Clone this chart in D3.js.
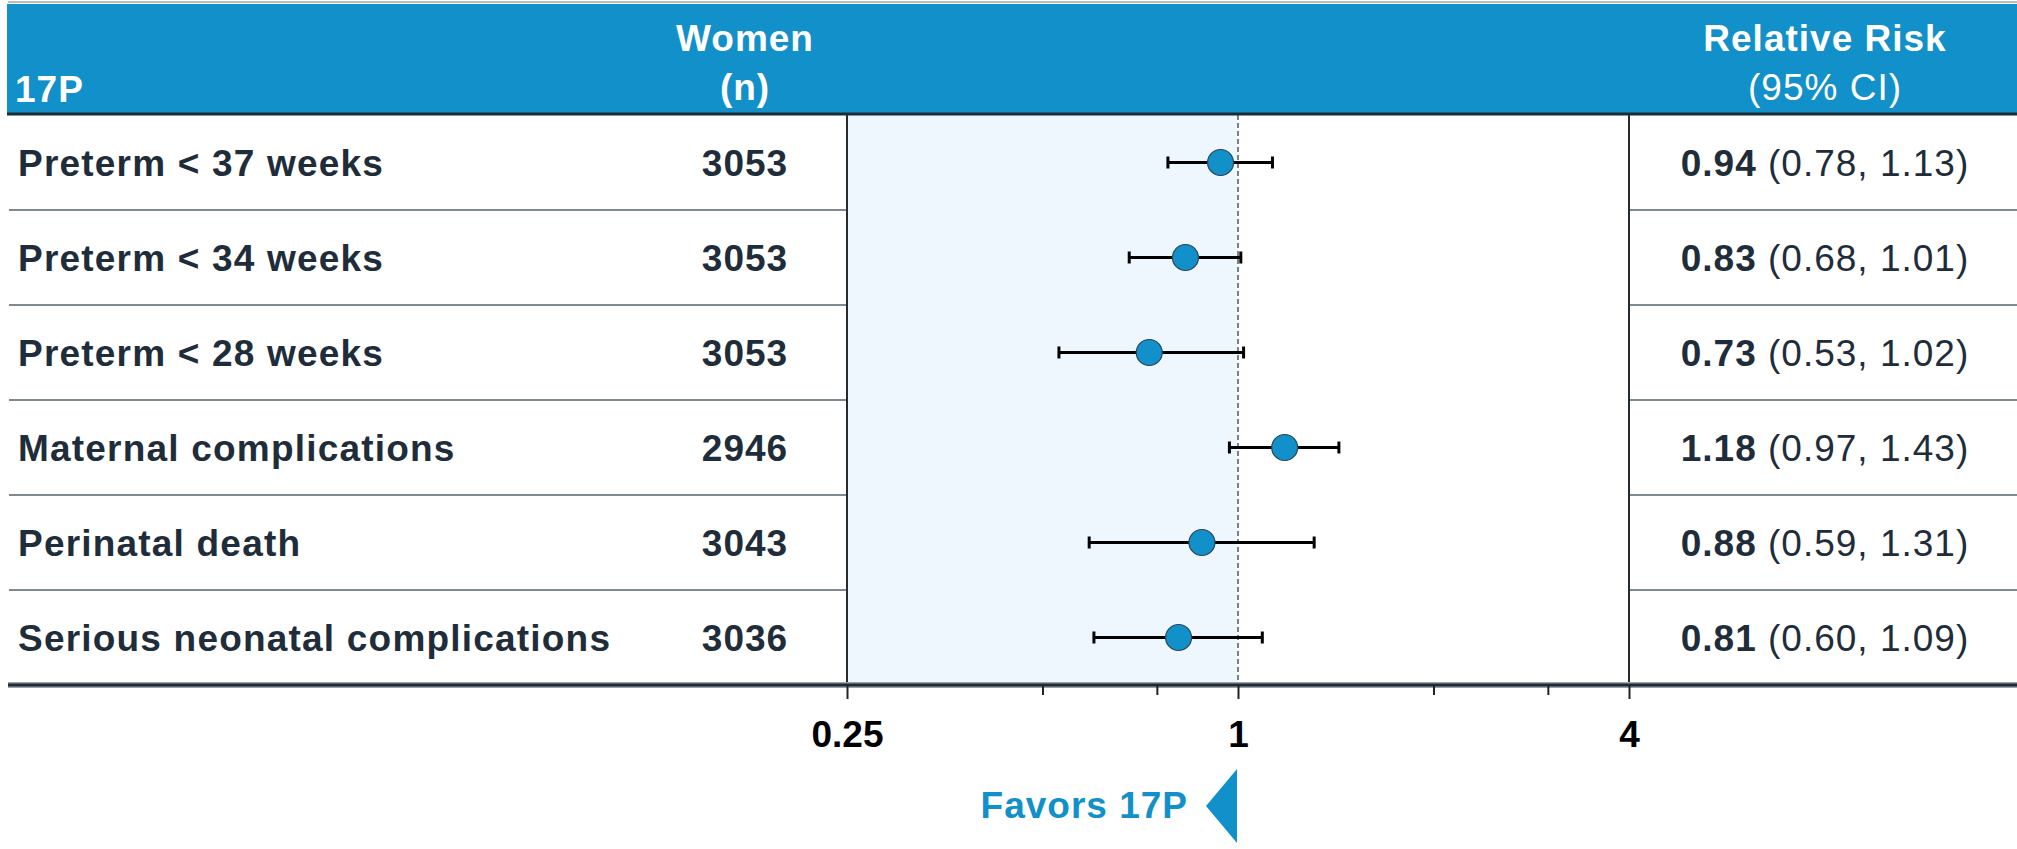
<!DOCTYPE html>
<html>
<head>
<meta charset="utf-8">
<script src="https://cdn.jsdelivr.net/npm/d3@7"></script>
<style>
  html, body { margin: 0; padding: 0; background: #ffffff; }
  svg { display: block; font-family: "Liberation Sans", Arial, Helvetica, sans-serif; }
</style>
</head>
<body>
<svg id="chart" width="2017" height="849"></svg>
<script>
// Outcomes, sample sizes and relative risks with 95% confidence limits
const outcomes = [
  "Preterm < 37 weeks",
  "Preterm < 34 weeks",
  "Preterm < 28 weeks",
  "Maternal complications",
  "Perinatal death",
  "Serious neonatal complications"
];
const women   = [3053, 3053, 3053, 2946, 3043, 3036];
const relRisk = [0.94, 0.83, 0.73, 1.18, 0.88, 0.81];
const ciLow   = [0.78, 0.68, 0.53, 0.97, 0.59, 0.60];
const ciHigh  = [1.13, 1.01, 1.02, 1.43, 1.31, 1.09];

// Axis ticks (log scale); only some are labelled
const axisTicks  = [0.25, 0.5, 0.75, 1, 2, 3, 4];
const axisLabels = [0.25, 1, 4];

const rows = outcomes.map((o, i) => ({
  outcome: o, n: women[i], rr: relRisk[i], lo: ciLow[i], hi: ciHigh[i]
}));

const W = 2017;
const blue = "#1190c9";
const ink = "#1f2d3b";
const fmt = d3.format(".2f");

const svg = d3.select("#chart");

const y = d3.scaleBand().domain(outcomes).range([115, 685]);
const x = d3.scaleLog().base(2).domain([0.25, 4]).range([847, 1629]);

const colN = 745;     // centre of the "Women (n)" column
const colRR = 1825;   // centre of the relative-risk column
const labelX = 18;

// ---- header band ----
svg.append("line").attr("x1", 8).attr("x2", W).attr("y1", 2).attr("y2", 2)
  .attr("stroke", "#b9bec2").attr("stroke-width", 2);
svg.append("rect").attr("x", 7).attr("y", 4).attr("width", W - 7).attr("height", 109)
  .attr("fill", blue);

const head = svg.append("g").attr("fill", "#ffffff").attr("font-size", 37)
  .attr("letter-spacing", 1);
head.append("text").attr("x", 15).attr("y", 102).attr("font-weight", "bold").text("17P");
head.append("text").attr("x", colN).attr("y", 51).attr("text-anchor", "middle")
  .attr("font-weight", "bold").text("Women");
head.append("text").attr("x", colN).attr("y", 100).attr("text-anchor", "middle")
  .attr("font-weight", "bold").text("(n)");
head.append("text").attr("x", colRR).attr("y", 51).attr("text-anchor", "middle")
  .attr("font-weight", "bold").text("Relative Risk");
head.append("text").attr("x", colRR).attr("y", 100).attr("text-anchor", "middle")
  .text("(95% CI)");

// ---- plot panel ----
svg.append("rect")
  .attr("x", x(0.25)).attr("y", 115)
  .attr("width", x(1) - x(0.25)).attr("height", 685 - 115)
  .attr("fill", "#edf7fd");

// row dividers outside the plot panel
const dividers = outcomes.slice(1).map(o => y(o));
const divG = svg.append("g").attr("stroke", "#7f8990").attr("stroke-width", 2);
dividers.forEach(v => {
  divG.append("line").attr("x1", 9).attr("x2", x(0.25)).attr("y1", v).attr("y2", v);
  divG.append("line").attr("x1", x(4)).attr("x2", W).attr("y1", v).attr("y2", v);
});

// reference line at RR = 1
svg.append("line")
  .attr("x1", x(1)).attr("x2", x(1)).attr("y1", 115).attr("y2", 685)
  .attr("stroke", "#3b4148").attr("stroke-width", 1.3)
  .attr("stroke-dasharray", "5,3");

// panel borders
[0.25, 4].forEach(v => {
  svg.append("line").attr("x1", x(v)).attr("x2", x(v)).attr("y1", 114).attr("y2", 685)
    .attr("stroke", "#262b30").attr("stroke-width", 2);
});

// header underline
svg.append("line").attr("x1", 7).attr("x2", W).attr("y1", 114).attr("y2", 114)
  .attr("stroke", "#1e2a36").attr("stroke-width", 3);

// ---- row text ----
const rowG = svg.selectAll("g.row").data(rows).join("g").attr("class", "row")
  .attr("transform", d => `translate(0,${y(d.outcome) + y.bandwidth() / 2})`);

rowG.append("text")
  .attr("x", labelX).attr("y", 13)
  .attr("font-size", 37).attr("font-weight", "bold").attr("letter-spacing", 1.2)
  .attr("fill", ink)
  .text(d => d.outcome);

rowG.append("text")
  .attr("x", colN).attr("y", 13).attr("text-anchor", "middle")
  .attr("font-size", 37).attr("font-weight", "bold").attr("letter-spacing", 1)
  .attr("fill", ink)
  .text(d => d.n);

const rrText = rowG.append("text")
  .attr("x", colRR).attr("y", 13).attr("text-anchor", "middle")
  .attr("font-size", 37).attr("letter-spacing", 1).attr("fill", ink);
rrText.append("tspan").attr("font-weight", "bold").text(d => fmt(d.rr));
rrText.append("tspan").text(d => ` (${fmt(d.lo)}, ${fmt(d.hi)})`);

// ---- confidence intervals and point estimates ----
const cap = 6;
rowG.append("line")
  .attr("x1", d => x(d.lo)).attr("x2", d => x(d.hi)).attr("y1", 0).attr("y2", 0)
  .attr("stroke", "#000").attr("stroke-width", 3);
rowG.append("line")
  .attr("x1", d => x(d.lo)).attr("x2", d => x(d.lo)).attr("y1", -cap).attr("y2", cap)
  .attr("stroke", "#000").attr("stroke-width", 3);
rowG.append("line")
  .attr("x1", d => x(d.hi)).attr("x2", d => x(d.hi)).attr("y1", -cap).attr("y2", cap)
  .attr("stroke", "#000").attr("stroke-width", 3);
rowG.append("circle")
  .attr("cx", d => x(d.rr)).attr("cy", 0).attr("r", 13)
  .attr("fill", blue).attr("stroke", "#29465a").attr("stroke-width", 1.2);

// ---- bottom axis ----
svg.append("line").attr("x1", 8).attr("x2", W).attr("y1", 685).attr("y2", 685)
  .attr("stroke", "#9aa1a6").attr("stroke-width", 6);
svg.append("line").attr("x1", 8).attr("x2", W).attr("y1", 685).attr("y2", 685)
  .attr("stroke", "#1e2a36").attr("stroke-width", 3);

const axis = d3.axisBottom(x)
  .tickValues(axisTicks)
  .tickSize(10)
  .tickSizeOuter(0)
  .tickFormat(v => axisLabels.includes(v) ? (v === 0.25 ? "0.25" : String(v)) : "");

const axG = svg.append("g").attr("transform", "translate(0,685)").call(axis);
axG.select(".domain").remove();
axG.selectAll(".tick line")
  .attr("stroke", "#222").attr("stroke-width", 2)
  .attr("y2", v => axisLabels.includes(v) ? 14 : 10);
axG.selectAll(".tick text")
  .attr("y", 62).attr("dy", null)
  .attr("fill", "#000")
  .attr("font-family", "'Liberation Sans', Arial, Helvetica, sans-serif")
  .attr("font-size", 37).attr("font-weight", "bold");

// ---- direction note ----
const x1 = x(1);
svg.append("text")
  .attr("x", x1 - 50).attr("y", 818).attr("text-anchor", "end")
  .attr("font-size", 37).attr("font-weight", "bold").attr("letter-spacing", 1)
  .attr("fill", blue)
  .text("Favors 17P");
svg.append("path")
  .attr("d", `M${x1 - 1},769 L${x1 - 1},843 L${x1 - 32},806 Z`)
  .attr("fill", blue);
</script>
</body>
</html>
